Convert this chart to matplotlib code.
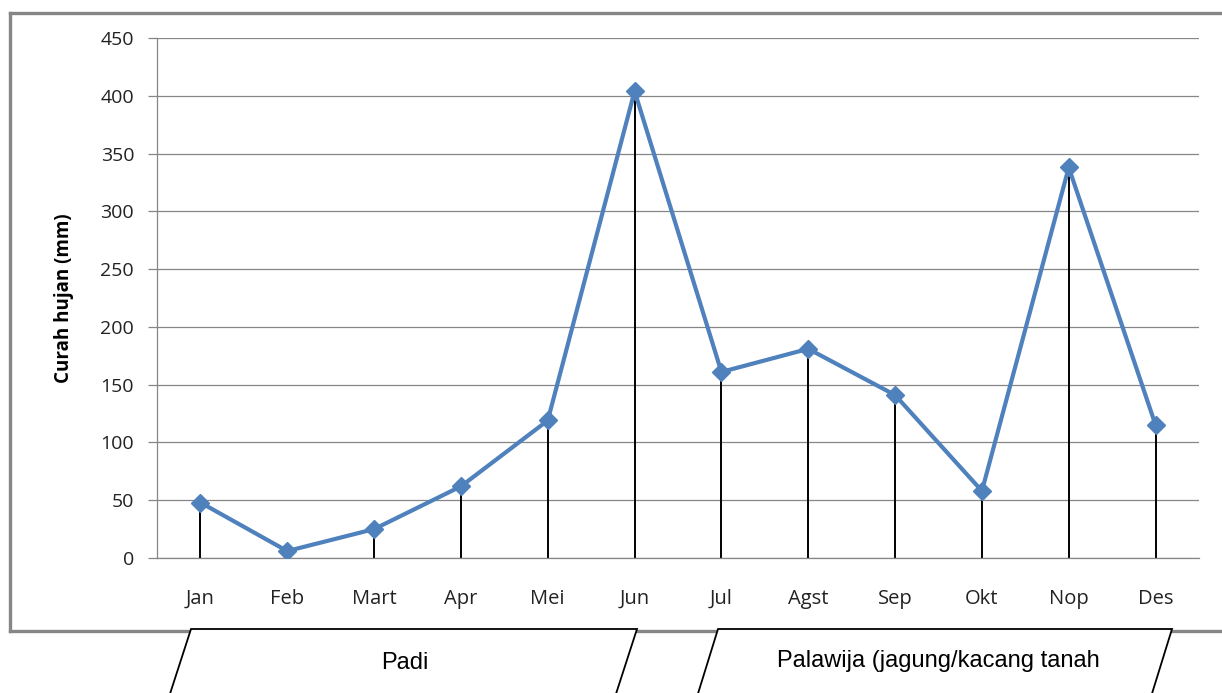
import numpy as np
import matplotlib
matplotlib.use("Agg")
import matplotlib.pyplot as plt
from matplotlib.lines import Line2D
from matplotlib.patches import Polygon

# data
months = ["Jan", "Feb", "Mart", "Apr", "Mei", "Jun", "Jul", "Agst", "Sep", "Okt", "Nop", "Des"]
rain = [48, 6, 25, 62, 119, 404, 161, 181, 141, 58, 338, 115]
yticks = [0, 50, 100, 150, 200, 250, 300, 350, 400, 450]
seasons = ["Padi", "Palawija (jagung/kacang tanah"]

W, H = 1222, 693
fig = plt.figure(figsize=(W / 100, H / 100), dpi=100)

def px(x, y):
    return x / W, 1 - y / H

# plot area
l, t = px(157, 38)
r, b = px(1199, 558)
ax = fig.add_axes([l, b, r - l, t - b])

x = np.arange(len(months))
ax.vlines(x, 0, rain, color="black", lw=1.4, zorder=2)
ax.plot(x, rain, color="#4F81BD", lw=3.0, marker="D", ms=9, mec="#4F81BD", zorder=3)

ax.set_xlim(-0.5, len(months) - 0.5)
ax.set_ylim(0, 450)
ax.set_yticks(yticks)
ax.set_xticks(x)
ax.set_xticklabels(months)
ax.yaxis.grid(True, color="#868686", lw=0.9)
ax.set_axisbelow(True)
for s in ["top", "right"]:
    ax.spines[s].set_visible(False)
ax.spines["left"].set_color("#868686")
ax.spines["bottom"].set_color("#868686")
ax.spines["left"].set_linewidth(0.9)
ax.spines["bottom"].set_linewidth(0.9)
ax.tick_params(axis="y", length=6.5, color="#868686", width=0.9, pad=10, labelsize=14)
ax.tick_params(axis="x", length=0, pad=22, labelsize=14.5)
for lab in ax.get_xticklabels() + ax.get_yticklabels():
    lab.set_family("Open Sans")
    lab.set_color("#222222")
ax.set_ylabel("Curah hujan (mm)", fontsize=13.5, fontweight="bold", family="Open Sans")
ax.yaxis.set_label_coords(-0.08, 0.5)

# outer chart frame (gray)
fc = "#868686"
for (x0, y0), (x1, y1) in [((10, 13), (1222, 13)), ((10, 13), (10, 631)), ((10, 631), (1222, 631))]:
    a, c = px(x0, y0)
    d, e = px(x1, y1)
    fig.add_artist(Line2D([a, d], [c, e], color=fc, lw=2.4, transform=fig.transFigure))

# season parallelograms below the chart
shapes = [
    [(191, 629), (637, 629), (614, 700), (168, 700)],
    [(718, 629), (1172, 629), (1150, 700), (696, 700)],
]
text_pos = [(405, 663), (938, 661)]
for pts, name, (tx, ty) in zip(shapes, seasons, text_pos):
    poly = Polygon([px(*p) for p in pts], closed=True, facecolor="white",
                   edgecolor="black", lw=1.3, transform=fig.transFigure, zorder=5)
    fig.add_artist(poly)
    fx, fy = px(tx, ty)
    fig.text(fx, fy, name, ha="center", va="center", fontsize=17,
             family="Liberation Sans", zorder=6)

fig.savefig("out.png", dpi=100)
